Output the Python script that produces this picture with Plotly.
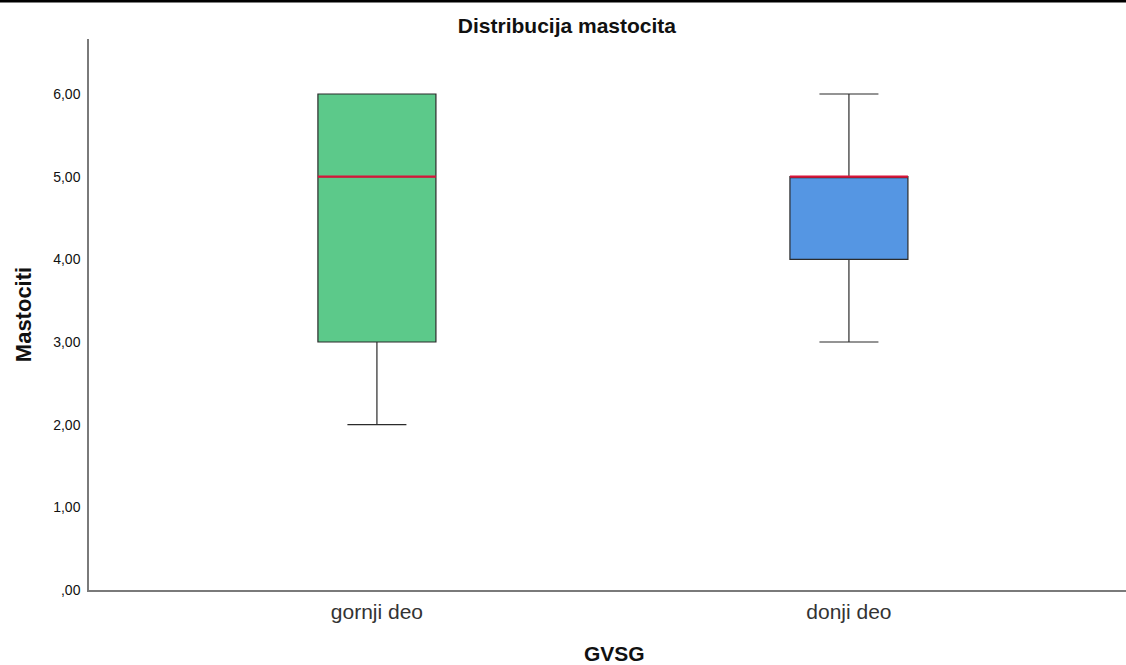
import plotly.graph_objects as go

categories = ["gornji deo", "donji deo"]
minimum = [2.0, 3.0]
q1 = [3.0, 4.0]
median = [5.0, 5.0]
q3 = [6.0, 5.0]
maximum = [6.0, 6.0]
fill_colors = ["#5CC98A", "#5596E3"]

tick_vals = [0, 1, 2, 3, 4, 5, 6]
tick_text = [",00", "1,00", "2,00", "3,00", "4,00", "5,00", "6,00"]

box_width = 0.25
FONT = "Liberation Sans, Arial, sans-serif"

fig = go.Figure()
for i, cat in enumerate(categories):
    fig.add_trace(go.Box(
        x=[i], q1=[q1[i]], median=[median[i]], q3=[q3[i]],
        lowerfence=[minimum[i]], upperfence=[maximum[i]],
        name=cat, width=box_width, whiskerwidth=0.5,
        fillcolor=fill_colors[i],
        line=dict(color="#2b2b2b", width=1.2),
        boxpoints=False, showlegend=False, hoverinfo="skip",
    ))
    fig.add_trace(go.Scatter(
        x=[i - box_width / 2, i + box_width / 2], y=[median[i], median[i]],
        mode="lines", line=dict(color="#D8143A", width=2.2),
        showlegend=False, hoverinfo="skip",
    ))

fig.update_layout(
    width=1126, height=665,
    margin=dict(l=89, r=0, t=39, b=75),
    paper_bgcolor="white", plot_bgcolor="white",
    font=dict(family=FONT, color="#111"),
    title=dict(text="<b>Distribucija mastocita</b>", x=0.5035, xref="container",
               y=1 - 26 / 665, yref="container", yanchor="middle",
               font=dict(size=21, color="#111", family=FONT)),
    xaxis=dict(range=[-0.61, 1.587], tickvals=[0, 1], ticktext=categories,
               showgrid=False, zeroline=False, showline=True,
               linecolor="#7a7a7a", linewidth=1.5, ticks="",
               ticklabelstandoff=2,
               tickfont=dict(size=21, color="#333", family=FONT)),
    yaxis=dict(range=[0, 6.665], tickvals=tick_vals, ticktext=tick_text,
               showgrid=False, zeroline=False, showline=True,
               linecolor="#7a7a7a", linewidth=1.5, ticks="",
               ticklabelstandoff=4,
               tickfont=dict(size=14, color="#111", family=FONT),
               title=dict(text="<b>Mastociti</b>", font=dict(size=22, color="#111", family=FONT),
                          standoff=16)),
    annotations=[dict(text="<b>GVSG</b>", xref="paper", yref="paper",
                      x=(614 - 89) / 1037, y=-(653 - 590) / 551,
                      xanchor="center", yanchor="middle", showarrow=False,
                      font=dict(size=21, color="#111", family=FONT))],
    shapes=[dict(type="line", xref="paper", yref="paper", ysizemode="pixel",
                 yanchor=1, x0=-89 / 1037, x1=1, y0=38, y1=38,
                 line=dict(color="black", width=3))],
)

fig.write_html("out.html")
